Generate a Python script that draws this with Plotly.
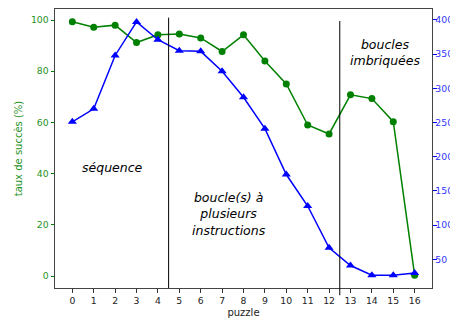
import plotly.graph_objects as go

puzzles = list(range(17))
success_rate = [99.3, 97.2, 98.0, 91.2, 94.2, 94.5, 93.0, 87.7, 94.2, 84.0, 75.0,
                59.0, 55.5, 70.8, 69.3, 60.3, 0.3]
counts = [251, 270, 348, 397, 371, 355, 354, 325, 287, 241, 174,
          128, 67, 41, 27, 26.7, 30]
x_ticks = list(range(17))
left_ticks = [0, 20, 40, 60, 80, 100]
right_ticks = [50, 100, 150, 200, 250, 300, 350, 400]
separators = [4.5, 12.5]
labels = [
    (1.86, 42.3, "<i>séquence</i>"),
    (7.33, 24.2, "<i>boucle(s) à<br>plusieurs<br>instructions</i>"),
    (14.6, 87.5, "<i>boucles<br>imbriquées</i>"),
]

GREEN = "#008000"
BLUE = "#0000ff"
FONT = "DejaVu Sans"
TICK_SIZE = 9.3

fig = go.Figure()
fig.add_trace(go.Scatter(
    x=puzzles, y=success_rate, mode="lines+markers",
    line=dict(color=GREEN, width=1.5),
    marker=dict(symbol="circle", size=7, color=GREEN),
    yaxis="y", showlegend=False, cliponaxis=False))
fig.add_trace(go.Scatter(
    x=puzzles, y=counts, mode="lines+markers",
    line=dict(color=BLUE, width=1.5),
    marker=dict(symbol="triangle-up", size=8, color=BLUE),
    yaxis="y2", showlegend=False, cliponaxis=False))

# vertical separators
fig.add_shape(type="line", xref="x", yref="paper", x0=separators[0], x1=separators[0],
              y0=0, y1=0.969, line=dict(color="black", width=1))
fig.add_shape(type="line", xref="x", yref="paper", x0=separators[1], x1=separators[1],
              y0=-0.026, y1=0.957, line=dict(color="black", width=1))

for xv, yv, txt in labels:
    fig.add_annotation(x=xv, y=yv, xref="x", yref="y", text=txt, showarrow=False,
                       font=dict(family=FONT, size=12.5, color="black"),
                       align="center", xanchor="center", yanchor="middle")

fig.update_layout(
    width=450, height=312,
    margin=dict(l=47, r=26, t=0.5, b=32, autoexpand=False),
    paper_bgcolor="white", plot_bgcolor="white",
    font=dict(family=FONT, size=10),
    xaxis=dict(range=[-0.81, 16.81], tickvals=x_ticks, ticks="outside", ticklen=3.5,
               tickcolor="#333", tickfont=dict(color="#222", size=TICK_SIZE),
               showline=True, linecolor="#444", linewidth=1, mirror=True,
               showgrid=False, zeroline=False, automargin=False,
               title=dict(text="puzzle", font=dict(size=10, color="#222"), standoff=4)),
    yaxis=dict(range=[-4.67, 104.3], tickvals=left_ticks, ticks="outside", ticklen=3.5,
               tickcolor=GREEN, tickfont=dict(color="#1f931f", size=TICK_SIZE),
               showline=True, linecolor="#444", linewidth=1,
               showgrid=False, zeroline=False, automargin=False,
               title=dict(text="taux de succès (%)", font=dict(size=10, color="#1f931f"),
                          standoff=6)),
    yaxis2=dict(range=[8.2, 415.9], tickvals=right_ticks, ticks="outside", ticklen=3.5,
                tickcolor=BLUE, tickfont=dict(color="#3535ff", size=TICK_SIZE),
                ticklabelstandoff=-3,
                overlaying="y", side="right", anchor="x",
                showline=True, linecolor="#444", linewidth=1,
                showgrid=False, zeroline=False, automargin=False),
)

fig.write_html("out.html")
